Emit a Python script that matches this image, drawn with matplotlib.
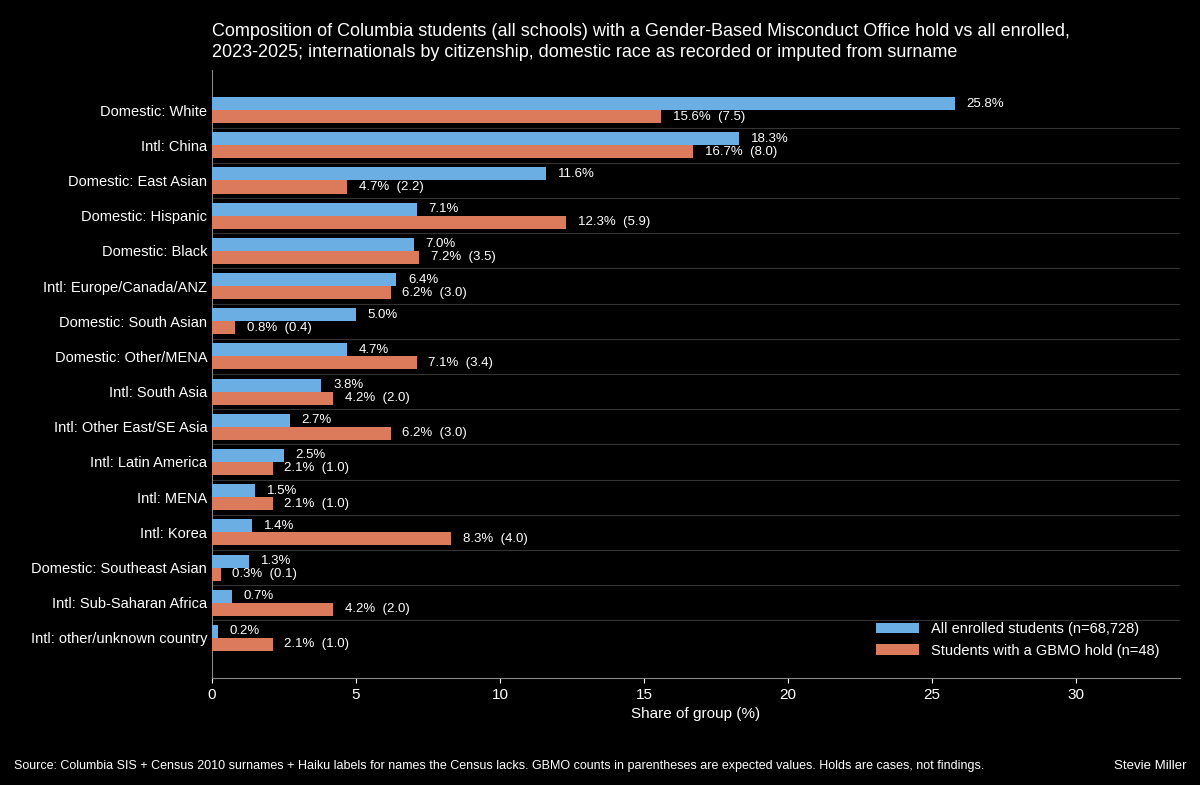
import matplotlib
matplotlib.use("Agg")
import matplotlib.pyplot as plt
import numpy as np

plt.rcParams['font.family'] = ['Liberation Sans', 'DejaVu Sans']

categories = ["Domestic: White","Intl: China","Domestic: East Asian","Domestic: Hispanic","Domestic: Black",
              "Intl: Europe/Canada/ANZ","Domestic: South Asian","Domestic: Other/MENA","Intl: South Asia",
              "Intl: Other East/SE Asia","Intl: Latin America","Intl: MENA","Intl: Korea",
              "Domestic: Southeast Asian","Intl: Sub-Saharan Africa","Intl: other/unknown country"]
enrolled = [25.8,18.3,11.6,7.1,7.0,6.4,5.0,4.7,3.8,2.7,2.5,1.5,1.4,1.3,0.7,0.2]
gbmo = [15.6,16.7,4.7,12.3,7.2,6.2,0.8,7.1,4.2,6.2,2.1,2.1,8.3,0.3,4.2,2.1]
expected = [7.5,8.0,2.2,5.9,3.5,3.0,0.4,3.4,2.0,3.0,1.0,1.0,4.0,0.1,2.0,1.0]

blue = "#6aaee4"; orange = "#dc7b5c"
fig = plt.figure(figsize=(12,7.85), dpi=100, facecolor="black")
ax = fig.add_axes([212/1200, 1-678/785, (1180-212)/1200, (678-70)/785], facecolor="black")
y = np.arange(len(categories))
h = 0.37
ax.barh(y-h/2, enrolled, height=h, color=blue, label="All enrolled students (n=68,728)", zorder=3)
ax.barh(y+h/2, gbmo, height=h, color=orange, label="Students with a GBMO hold (n=48)", zorder=3)
for i in y:
    ax.text(enrolled[i]+0.4, i-h/2, f"{enrolled[i]:.1f}%", color="white", va="center", fontsize=9.5)
    ax.text(gbmo[i]+0.4, i+h/2, f"{gbmo[i]:.1f}%  ({expected[i]:.1f})", color="white", va="center", fontsize=9.5)
for b in np.arange(len(categories)-1)+0.5:
    ax.axhline(b, color="#333333", lw=0.8, zorder=1)
ax.set_ylim(len(categories)-1+1.14, -1.14)
ax.set_xlim(0, 33.6)
ax.set_yticks(y); ax.set_yticklabels(categories, color="white", fontsize=10.5)
ax.set_xticks([0,5,10,15,20,25,30])
ax.tick_params(axis="x", colors="white", labelsize=11)
ax.tick_params(axis="y", colors="white", length=0)
for s in ["top","right"]:
    ax.spines[s].set_visible(False)
for s in ["left","bottom"]:
    ax.spines[s].set_color("#888888")
ax.set_xlabel("Share of group (%)", color="white", fontsize=11)
leg = ax.legend(loc="lower right", frameon=False, fontsize=10.5, labelcolor="white", handlelength=3, borderaxespad=1.0)
fig.text(212/1200, 1-42/785, "Composition of Columbia students (all schools) with a Gender-Based Misconduct Office hold vs all enrolled,\n2023-2025; internationals by citizenship, domestic race as recorded or imputed from surname",
         color="white", fontsize=13, va="center", ha="left", linespacing=1.25)
fig.text(14/1200, 1-766/785, "Source: Columbia SIS + Census 2010 surnames + Haiku labels for names the Census lacks. GBMO counts in parentheses are expected values. Holds are cases, not findings.",
         color="white", fontsize=9, va="center")
fig.text(1186/1200, 1-766/785, "Stevie Miller", color="white", fontsize=9.5, va="center", ha="right")
fig.savefig("out.png", dpi=100, facecolor="black")
